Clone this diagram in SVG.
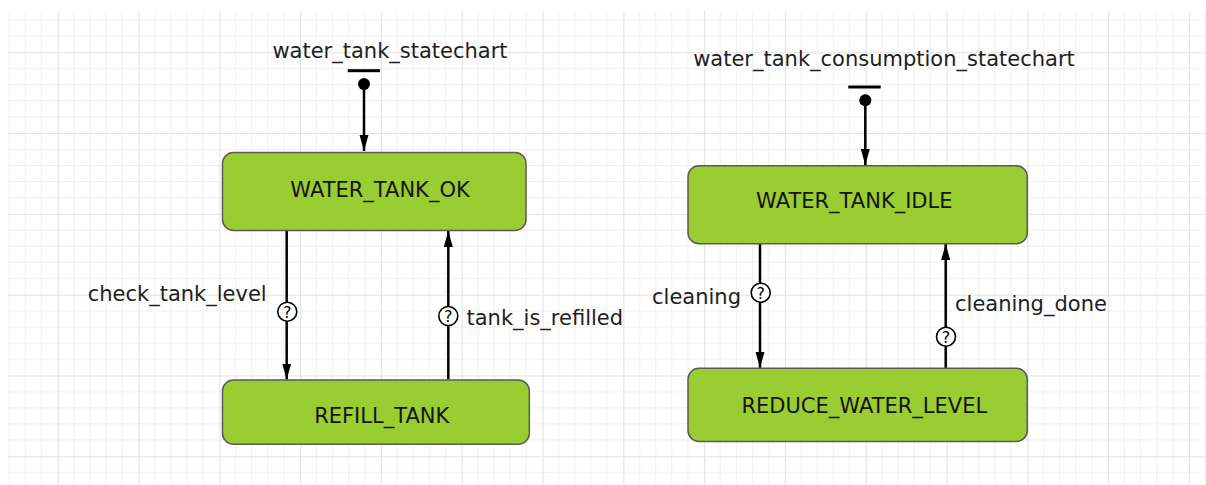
<svg xmlns="http://www.w3.org/2000/svg" width="1206" height="485" viewBox="0 0 1206 485">
  <style>
    .state{fill:#9acd32;stroke:#5a5a5a;stroke-width:1.5}
    .stxt{font-family:"DejaVu Sans",sans-serif;font-size:21px;fill:#141414;text-anchor:middle}
    .ttl{font-family:"DejaVu Sans",sans-serif;font-size:21px;fill:#1e1e1e;text-anchor:middle}
    .lbl{font-family:"DejaVu Sans",sans-serif;font-size:21px;fill:#1e1e1e}
    .edge{stroke:#000;stroke-width:2.5;fill:none;marker-end:url(#arr)}
    .q circle{fill:#fff;stroke:#000;stroke-width:1.6}
    .q text{font-family:"DejaVu Sans",sans-serif;font-size:16px;fill:#000;text-anchor:middle}
    .minor{stroke:#f0f0f0;stroke-width:1}
    .major{stroke:#e2e2e2;stroke-width:1.2}
  </style>
  <defs>
    <pattern id="grid" patternUnits="userSpaceOnUse" x="57.7" y="52.3" width="80.8" height="80.8">
      <path class="minor" d="M16.16 0V80.8M32.32 0V80.8M48.48 0V80.8M64.64 0V80.8M0 16.16H80.8M0 32.32H80.8M0 48.48H80.8M0 64.64H80.8"/>
      <path class="major" d="M0.5 0V80.8M0 0.5H80.8"/>
    </pattern>
    <marker id="arr" markerUnits="userSpaceOnUse" markerWidth="18" markerHeight="12" refX="16" refY="5" orient="auto">
      <path d="M0 0.5L16 5L0 9.5z" fill="#000"/>
    </marker>
  </defs>
  <rect x="0" y="0" width="1206" height="485" fill="#fff"/>
  <rect x="8" y="11" width="1198" height="474" fill="url(#grid)"/>

  <g id="connectors">
    <line class="edge" x1="364" y1="84" x2="364" y2="151"/>
    <line class="edge" x1="865.3" y1="100" x2="865.3" y2="165"/>
    <line class="edge" x1="286.7" y1="231" x2="286.7" y2="379.5"/>
    <line class="edge" x1="448.3" y1="379.5" x2="448.3" y2="231"/>
    <line class="edge" x1="760" y1="244" x2="760" y2="368"/>
    <line class="edge" x1="945.7" y1="368" x2="945.7" y2="244"/>
    <g class="q"><circle cx="287.3" cy="311.7" r="9.5"/><text x="287.3" y="317.5">?</text></g>
    <g class="q"><circle cx="448.3" cy="316" r="9.5"/><text x="448.3" y="321.8">?</text></g>
    <g class="q"><circle cx="760.7" cy="292.7" r="9.5"/><text x="760.7" y="298.5">?</text></g>
    <g class="q"><circle cx="946" cy="336.7" r="9.5"/><text x="946" y="342.5">?</text></g>
    <text class="lbl" x="266.7" y="300.7" text-anchor="end">check_tank_level</text>
    <text class="lbl" x="466.5" y="325">tank_is_refilled</text>
    <text class="lbl" x="741" y="304" text-anchor="end">cleaning</text>
    <text class="lbl" x="955" y="310.7">cleaning_done</text>
  </g>

  <g id="init1">
    <text class="ttl" x="390" y="57.5">water_tank_statechart</text>
    <rect x="347.7" y="69.2" width="32.3" height="3" fill="#000"/>
    <circle cx="364" cy="84" r="6" fill="#000"/>
  </g>
  <g id="init2">
    <text class="ttl" x="884" y="66">water_tank_consumption_statechart</text>
    <rect x="848.3" y="85.5" width="32.4" height="3" fill="#000"/>
    <circle cx="865.3" cy="100.3" r="6" fill="#000"/>
  </g>

  <g id="WATER_TANK_OK">
    <rect class="state" x="222.5" y="152.5" width="303.5" height="78" rx="11"/>
    <text class="stxt" x="380" y="196.7">WATER_TANK_OK</text>
  </g>
  <g id="REFILL_TANK">
    <rect class="state" x="222.5" y="380" width="306.8" height="64.3" rx="11"/>
    <text class="stxt" x="381.7" y="422.7">REFILL_TANK</text>
  </g>
  <g id="WATER_TANK_IDLE">
    <rect class="state" x="688" y="165.8" width="339.3" height="78" rx="11"/>
    <text class="stxt" x="854.3" y="208.3">WATER_TANK_IDLE</text>
  </g>
  <g id="REDUCE_WATER_LEVEL">
    <rect class="state" x="688" y="368.3" width="339.3" height="73.2" rx="11"/>
    <text class="stxt" x="864.3" y="413.3">REDUCE_WATER_LEVEL</text>
  </g>
</svg>
